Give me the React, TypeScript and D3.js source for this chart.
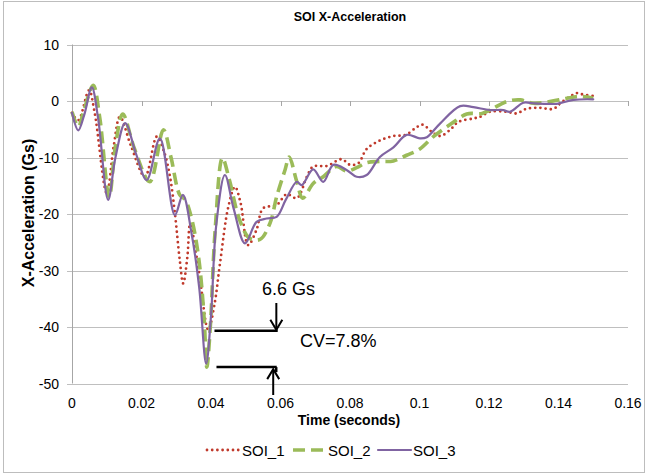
import React from "react";
import * as d3 from "d3";

// Time (s) and X-acceleration (Gs) samples for each sled test
const soi1Time = [0, 0.0018, 0.0049, 0.0065, 0.01, 0.012, 0.0138, 0.017, 0.021, 0.0244, 0.0265, 0.0282, 0.0296, 0.031, 0.032, 0.0332, 0.034, 0.0365, 0.0392, 0.041, 0.0426, 0.045, 0.0469, 0.0485, 0.0507, 0.0531, 0.055, 0.0589, 0.0618, 0.0647, 0.0676, 0.0694, 0.0733, 0.0776, 0.08, 0.0824, 0.0848, 0.0886, 0.0925, 0.096, 0.0993, 0.101, 0.1036, 0.106, 0.109, 0.1112, 0.1155, 0.1175, 0.1203, 0.125, 0.128, 0.1307, 0.1345, 0.1385, 0.1405, 0.1434, 0.1453, 0.1467, 0.15];
const soi1Accel = [-2.1, -3.4, 1.9, -2, -16.3, -8, -2.8, -8, -13.4, -6.3, -9, -13.4, -19.8, -28.1, -32.3, -27.6, -21.8, -30, -40.5, -36, -28.7, -18.7, -15.2, -18, -25.5, -22.8, -19.0, -18.4, -16.5, -17.2, -13.4, -11.6, -11.5, -10.3, -11.3, -11, -8.5, -7.0, -6.2, -6.0, -4.6, -4.2, -5.5, -6.2, -5.0, -3.7, -3.1, -2.8, -1.9, -1.9, -2.2, -1.4, -1.2, -1.4, -0.4, 0.8, 1.4, 1.2, 0.9];

const soi2Time = [0, 0.0018, 0.0035, 0.0061, 0.008, 0.0107, 0.0125, 0.0146, 0.018, 0.0224, 0.0263, 0.0285, 0.031, 0.0326, 0.0345, 0.0365, 0.038, 0.0388, 0.0398, 0.0412, 0.0433, 0.0453, 0.0482, 0.0511, 0.0541, 0.057, 0.0589, 0.0613, 0.0625, 0.0647, 0.0664, 0.0694, 0.0723, 0.0761, 0.079, 0.0819, 0.0848, 0.0886, 0.0925, 0.0963, 0.1001, 0.104, 0.1092, 0.1136, 0.118, 0.1203, 0.1251, 0.129, 0.1327, 0.1375, 0.1424, 0.1462, 0.15];
const soi2Accel = [-1.9, -4.5, -1.5, 2.8, -3, -17, -8, -2.3, -8.5, -14.3, -5.1, -10, -16.6, -17.5, -21, -28, -38.2, -47.1, -40, -22.8, -10.1, -14, -21, -24.3, -24.5, -21.6, -16.9, -12.2, -9.9, -14.3, -17.2, -14.6, -13.4, -11.6, -12.4, -11.8, -10.9, -10.7, -10.6, -9.6, -8.5, -6.3, -4.0, -2.3, -2.2, -1.6, -0.1, 0.2, -0.4, -0.1, 0.5, 0.8, 0.5];

const soi3Time = [0, 0.0018, 0.0035, 0.0057, 0.0075, 0.0104, 0.0125, 0.0153, 0.0185, 0.0215, 0.0253, 0.0296, 0.0319, 0.0344, 0.0366, 0.0386, 0.04, 0.0415, 0.044, 0.0465, 0.0498, 0.0531, 0.056, 0.0589, 0.0615, 0.0647, 0.0661, 0.0694, 0.0723, 0.0752, 0.079, 0.0819, 0.0848, 0.0886, 0.0925, 0.0963, 0.1001, 0.1021, 0.1059, 0.1117, 0.1155, 0.1203, 0.1241, 0.126, 0.1299, 0.1327, 0.1366, 0.1395, 0.1443, 0.15];
const soi3Accel = [-2.1, -5.2, -2.5, 2.4, -3, -17.5, -10, -3.9, -9.5, -14, -6.6, -20.2, -16.6, -23.4, -33, -46.5, -38, -22, -13.1, -19, -25.2, -21.4, -20.8, -20.5, -17.5, -14.3, -14.9, -12.1, -14.3, -11.3, -12.2, -13.4, -13.1, -9.9, -8.2, -6.0, -6.6, -6.4, -4.0, -0.9, -1.1, -1.6, -1.6, -1.9, -0.3, -0.4, -0.5, -0.5, 0.2, 0.3];

const xTicks = [0, 0.02, 0.04, 0.06, 0.08, 0.1, 0.12, 0.14, 0.16];
const yTicks = [10, 0, -10, -20, -30, -40, -50];

// Peak comparison annotation
const peakLow = -47.1;
const peakSpread = 6.6;
const cvLabel = "CV=7.8%";

const W = 648;
const H = 475;
const FONT = "'Liberation Sans', Arial, sans-serif";

const series = [
  { name: "SOI_1", t: soi1Time, v: soi1Accel, color: "#C0392B", width: 2.8, dash: "0 5.2", cap: "round" },
  { name: "SOI_2", t: soi2Time, v: soi2Accel, color: "#9BBB59", width: 3.6, dash: "12 6", cap: "butt" },
  { name: "SOI_3", t: soi3Time, v: soi3Accel, color: "#8064A2", width: 2.2, dash: "none", cap: "round" },
];

export default function App() {
  const x = d3.scaleLinear().domain([0, 0.16]).range([72, 628]);
  const y = d3.scaleLinear().domain([-50, 10]).range([383.5, 44.5]);

  const line = d3
    .line<[number, number]>()
    .x((d) => x(d[0]))
    .y((d) => y(d[1]))
    .curve(d3.curveCatmullRom.alpha(0.5));

  const fmt = (d: number) => (d === 0 ? "0" : String(+d.toFixed(2)));

  const hiY = y(peakLow + peakSpread);
  const loY = y(peakLow);
  const x0 = x(0.041);
  const x1 = x(0.0592);
  const xa1 = x(0.0588);
  const xa2 = x(0.0579);

  const legendItems = [
    { s: series[0], lx: 207 },
    { s: series[1], lx: 293 },
    { s: series[2], lx: 378 },
  ];

  return (
    <svg width={W} height={H} style={{ position: "absolute", left: 0, top: 0, background: "#fff" }} fontFamily={FONT}>
      <rect x={3.5} y={1.5} width={641} height={471} fill="#fff" stroke="#BDBDBD" strokeWidth={1} />

      <text x={350} y={21} textAnchor="middle" fontSize={12.5} fontWeight="bold" fill="#000">
        SOI X-Acceleration
      </text>

      {/* horizontal gridlines */}
      {yTicks.map((t) => (
        <line key={"g" + t} x1={67} x2={628} y1={Math.round(y(t)) + 0.5} y2={Math.round(y(t)) + 0.5} stroke="#BFBFBF" strokeWidth={1} />
      ))}
      {/* vertical axis */}
      <line x1={72.5} x2={72.5} y1={y(10)} y2={y(-50)} stroke="#A6A6A6" strokeWidth={1} />
      {/* horizontal axis crossing at zero, tick marks below */}
      {xTicks.map((t) => (
        <line key={"xt" + t} x1={Math.round(x(t)) + 0.5} x2={Math.round(x(t)) + 0.5} y1={y(0)} y2={y(0) + 5} stroke="#A6A6A6" strokeWidth={1} />
      ))}

      {yTicks.map((t) => (
        <text key={"yl" + t} x={59} y={y(t) + 5} textAnchor="end" fontSize={14} fill="#000">
          {t}
        </text>
      ))}
      {xTicks.map((t) => (
        <text key={"xl" + t} x={x(t)} y={408} textAnchor="middle" fontSize={14} fill="#000">
          {fmt(t)}
        </text>
      ))}

      <text x={349} y={425} textAnchor="middle" fontSize={14} fontWeight="bold" fill="#000">
        Time (seconds)
      </text>
      <text transform={`translate(34,213) rotate(-90)`} textAnchor="middle" fontSize={16} fontWeight="bold" fill="#000">
        X-Acceleration (Gs)
      </text>

      {series.map((s) => (
        <path
          key={s.name}
          d={line(s.t.map((t, i) => [t, s.v[i]] as [number, number])) || ""}
          fill="none"
          stroke={s.color}
          strokeWidth={s.width}
          strokeDasharray={s.dash}
          strokeLinecap={s.cap as any}
          strokeLinejoin="round"
        />
      ))}

      {/* peak spread annotation */}
      <g stroke="#000" fill="none">
        <line x1={x0} x2={x1} y1={hiY + 1} y2={hiY + 1} strokeWidth={2.5} />
        <line x1={xa1} x2={xa1} y1={303} y2={hiY} strokeWidth={2} />
        <path d={`M${xa1 - 6},${hiY - 10} L${xa1},${hiY} L${xa1 + 6},${hiY - 10}`} strokeWidth={2} />

        <line x1={x0 + 2} x2={x1 - 1} y1={loY} y2={loY} strokeWidth={2.5} />
        <line x1={x1 - 1.5} x2={x1 - 1.5} y1={loY} y2={loY + 5} strokeWidth={2.5} />
        <line x1={xa2} x2={xa2} y1={395} y2={loY + 2} strokeWidth={2} />
        <path d={`M${xa2 - 6},${loY + 12} L${xa2},${loY + 2} L${xa2 + 6},${loY + 12}`} strokeWidth={2} />
      </g>
      <text x={262} y={295} fontSize={18} fill="#000">
        {peakSpread} Gs
      </text>
      <text x={300} y={347} fontSize={18} fill="#000">
        {cvLabel}
      </text>

      {/* legend */}
      {legendItems.map(({ s, lx }) => (
        <g key={"lg" + s.name}>
          <line x1={lx} x2={lx + 33} y1={450} y2={450} stroke={s.color} strokeWidth={s.width} strokeDasharray={s.dash} strokeLinecap={s.cap as any} />
          <text x={lx + 35} y={455.5} fontSize={15} fill="#000">
            {s.name}
          </text>
        </g>
      ))}
    </svg>
  );
}
